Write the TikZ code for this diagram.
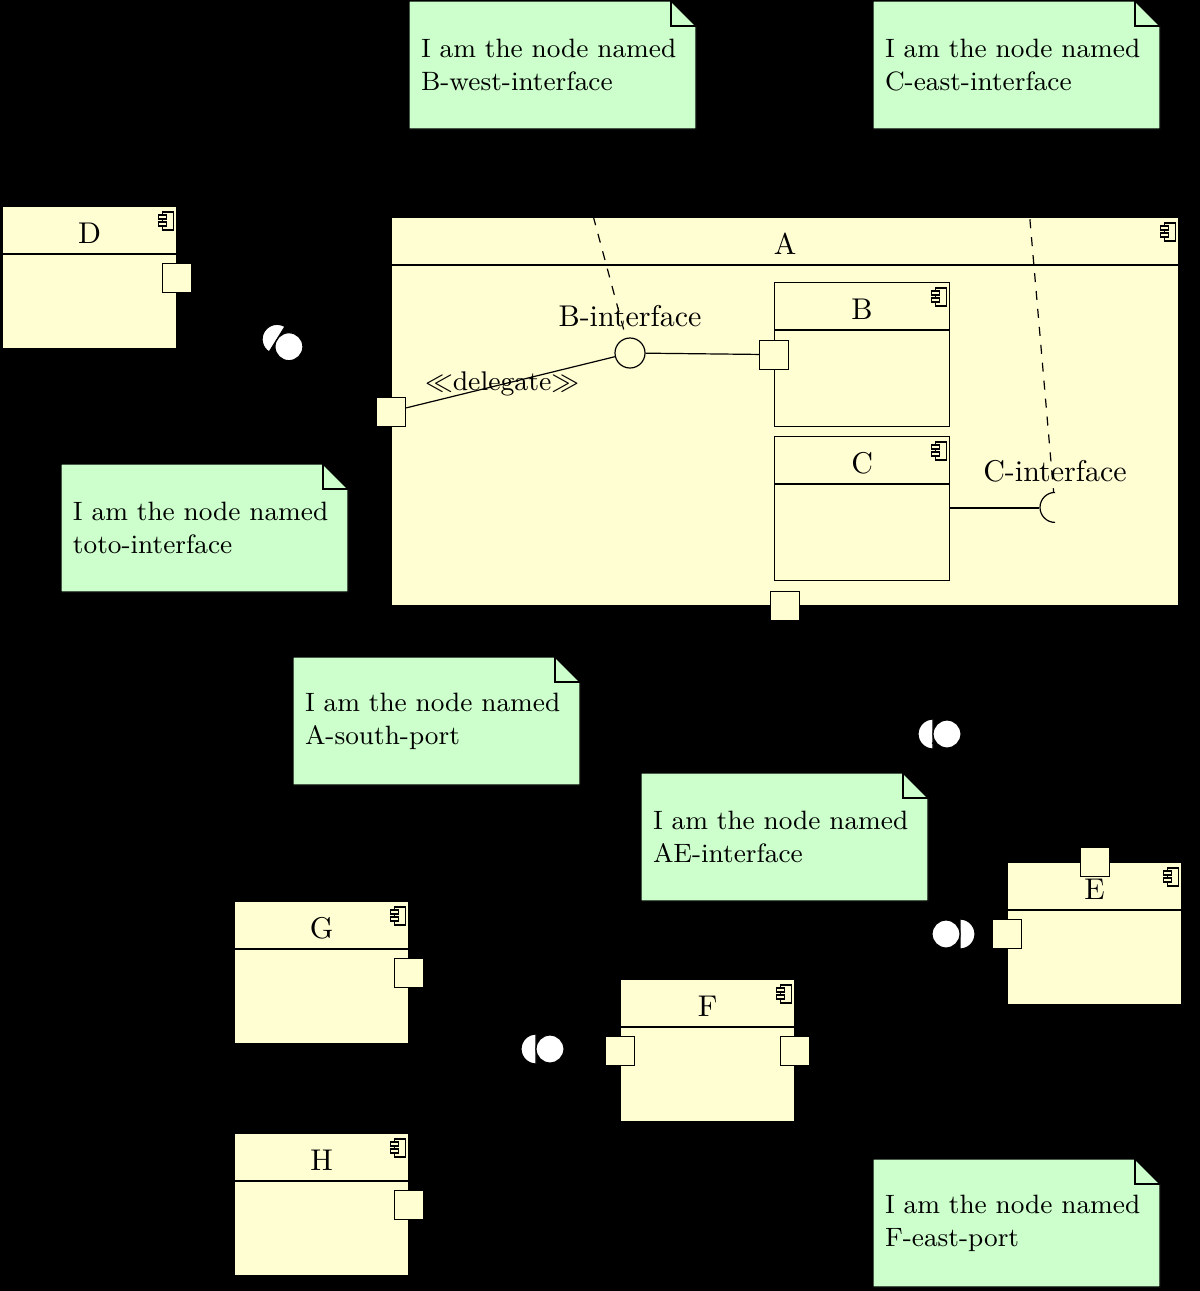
\documentclass[tikz,border=0pt]{standalone}
\usetikzlibrary{calc}
\pgfdeclarelayer{bg}
\pgfdeclarelayer{conn}
\pgfsetlayers{bg,conn,main}
\definecolor{compfill}{RGB}{255,253,210}
\definecolor{notefill}{RGB}{204,255,204}
\def\pxu{0.33333pt}
\tikzset{
  compbox/.style={draw=black, fill=compfill, inner sep=0pt, anchor=north west},
  portbox/.style={draw=black, fill=compfill, inner sep=0pt, minimum width=29*\pxu, minimum height=29*\pxu},
  ballnode/.style={circle, draw=black, fill=white, inner sep=0pt, minimum size=28*\pxu},
  ifacenode/.style={circle, inner sep=0pt, minimum size=30*\pxu},
  notetext/.style={font=\fontsize{8.85}{11}\selectfont, align=left, text width=263*\pxu, inner xsep=12*\pxu, inner ysep=0pt, minimum height=128*\pxu},
  notedash/.style={dashed, draw=black},
}
% component: name, label, left x, top y, width, height
\newcommand{\umlcompbox}[6]{%
  \node[compbox, minimum width=#5*\pxu, minimum height=#6*\pxu] (#1) at (#3,#4) {};
  \draw ([yshift=-48*\pxu]#1.north west) -- ([yshift=-48*\pxu]#1.north east);
  \node[anchor=base, inner sep=0pt] (#1-label) at ([yshift=-37*\pxu]#1.north) {#2};
  \begin{scope}[shift={(#1.north east)}, line width=0.4pt]
    \draw (-15,6) rectangle (-4,24);
    \draw[fill=compfill] (-19,9) rectangle (-11,13);
    \draw[fill=compfill] (-19,16) rectangle (-11,20);
  \end{scope}
}
% ball and socket: name, mid x, mid y, angle
\newcommand{\umlballsocket}[4]{%
  \coordinate (#1-socket) at ($(#2,#3)+({#4+180}:7)$);
  \draw[fill=white] (#1-socket) ++({#4+90}:15) arc[start angle={#4+90}, end angle={#4+270}, radius=15] -- cycle;
  \node[ballnode] (#1) at ($(#2,#3)+(#4:7)$) {};
}
% note: name, left x, top y, second line
\newcommand{\umlnotebox}[4]{%
  \draw[fill=notefill] (#2,#3) -- ({#2+262},#3) -- ({#2+287},{#3+25}) -- ({#2+287},{#3+128}) -- (#2,{#3+128}) -- cycle;
  \draw ({#2+262},#3) -- ({#2+262},{#3+25}) -- ({#2+287},{#3+25});
  \node[notetext] (#1) at ({#2+143.5},{#3+64}) {I am the node named\\#4};
}
\begin{document}
\begin{tikzpicture}[x=0.33333pt, y=-0.33333pt, line width=0.55pt]
\useasboundingbox (0,0) rectangle (1200,1291);
\begin{pgfonlayer}{bg}
  \fill[black] (0,0) rectangle (1200,1291);
\end{pgfonlayer}

% components
\umlcompbox{A}{A}{391}{217}{787}{388}
\umlcompbox{B}{B}{774}{282}{175}{144}
\umlcompbox{C}{C}{774}{436}{175}{144}
\umlcompbox{D}{D}{2}{206}{174}{142}
\umlcompbox{E}{E}{1007}{862}{174}{142}
\umlcompbox{F}{F}{620}{979}{174}{142}
\umlcompbox{G}{G}{234}{901}{174}{142}
\umlcompbox{H}{H}{234}{1133}{174}{142}

% ports
\node[portbox] (A-west-port) at (A.west) {};
\node[portbox] (A-south-port) at (A.south) {};
\node[portbox] (B-west-port) at (B.west) {};
\node[portbox] (D-east-port) at (D.east) {};
\node[portbox] (E-north-port) at (E.north) {};
\node[portbox] (E-west-port) at (E.west) {};
\node[portbox] (F-west-port) at (F.west) {};
\node[portbox] (F-east-port) at (F.east) {};
\node[portbox] (G-east-port) at (G.east) {};
\node[portbox] (H-east-port) at (H.east) {};

% inner interfaces
\node[ifacenode, draw=black] (B-interface) at (630,353) {};
\node[anchor=south] (B-interface-label) at (B-interface.north) {B-interface};
\draw (B-interface) -- (B-west-port);
\draw (A-west-port) -- node[pos=0.46, font=\small] (delegate-label) {$\ll$delegate$\gg$} (B-interface);

\node[ifacenode] (C-interface) at (1055,508) {};
\draw (C-interface.north) arc[start angle=270, end angle=90, radius=15];
\node[anchor=south] (C-interface-label) at (C-interface.north) {C-interface};
\draw (C.east |- C-interface) -- (C-interface.west);

% assembly connectors (ball and socket)
\umlballsocket{toto-interface}{283}{343}{32}
\umlballsocket{AE-interface}{940}{734}{0}
\umlballsocket{FE-interface}{953}{934}{180}
\umlballsocket{GF-interface}{543}{1049}{0}

\coordinate (FE-bend) at (900,1049);
\coordinate (GF-bend) at (467,971);
\begin{pgfonlayer}{conn}
  \draw (D-east-port) -- (A-west-port);
  \draw (A-south-port) |- (AE-interface) -| (E-north-port);
  \draw (F-east-port) -- (FE-bend) |- (E-west-port);
  \draw (G-east-port) -- (GF-bend) |- (F-west-port);
\end{pgfonlayer}

% notes
\umlnotebox{note-B}{409}{1}{B-west-interface}
\umlnotebox{note-C}{873}{1}{C-east-interface}
\umlnotebox{note-toto}{61}{464}{toto-interface}
\umlnotebox{note-As}{293}{657}{A-south-port}
\umlnotebox{note-AE}{641}{773}{AE-interface}
\umlnotebox{note-F}{873}{1159}{F-east-port}

\draw[notedash] (note-B) -- (B-interface);
\draw[notedash] (note-C) -- (C-interface);
\draw[notedash] (note-toto) -- (toto-interface);
\draw[notedash] (note-As) -- (A-south-port);
\draw[notedash] (note-AE) -- (AE-interface);
\draw[notedash] (note-F) -- (F-east-port);
\end{tikzpicture}
\end{document}
